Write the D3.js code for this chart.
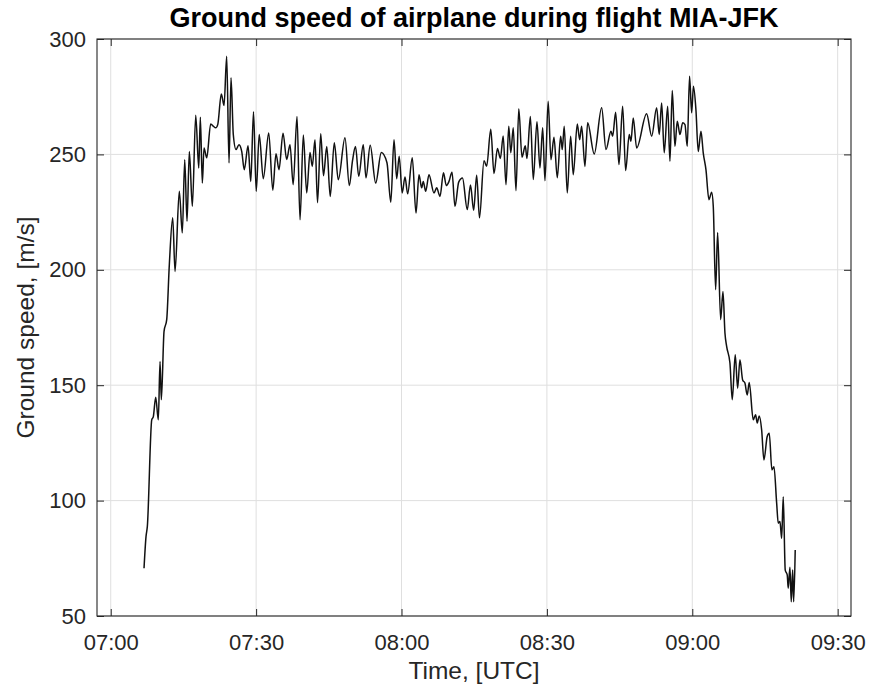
<!DOCTYPE html>
<html>
<head>
<meta charset="utf-8">
<script src="https://cdn.jsdelivr.net/npm/d3@7"></script>
<style>
body { margin: 0; background: #fff; }
svg { display: block; font-family: Arial, "Liberation Sans", Helvetica, sans-serif; }
</style>
</head>
<body>
<svg width="869" height="690"></svg>
<script>
// time of each sample, minutes after 07:00 UTC
var minutes = [
    6.87, 7.28, 7.55, 8.46, 8.79, 9.28, 9.82, 10.17, 10.44, 11.00,
    11.55, 12.09, 12.79, 13.27, 14.15, 14.77, 15.27, 15.74, 16.22, 16.84,
    17.54, 18.16, 18.49, 18.90, 19.25, 19.81, 20.63, 21.17, 21.66, 22.08,
    22.82, 23.38, 23.93, 24.41, 24.82, 25.29, 25.85, 26.47, 27.03, 27.56,
    28.33, 28.90, 29.46, 30.02, 30.64, 31.48, 32.60, 33.44, 34.10, 34.72,
    35.55, 36.31, 36.99, 37.65, 38.44, 39.06, 39.74, 40.44, 41.12, 41.59,
    42.15, 42.67, 43.33, 43.90, 44.58, 45.29, 46.13, 46.96, 48.34, 49.23,
    49.89, 50.51, 51.17, 52.11, 52.67, 53.54, 54.67, 55.83, 57.00, 57.79,
    58.45, 59.01, 59.52, 60.14, 60.72, 61.27, 62.22, 62.99, 63.61, 64.16,
    64.49, 64.99, 65.67, 66.70, 67.26, 67.94, 68.66, 69.24, 69.80, 70.42,
    71.03, 71.80, 72.58, 73.57, 74.23, 74.89, 75.51, 76.09, 77.02, 77.57,
    78.42, 79.08, 79.80, 80.40, 80.98, 81.56, 82.13, 82.55, 83.06, 83.62,
    84.20, 84.86, 85.54, 85.89, 86.59, 87.19, 87.95, 88.57, 89.13, 89.60,
    90.26, 90.84, 91.46, 92.14, 92.84, 93.17, 93.58, 94.20, 94.90, 95.44,
    96.27, 96.76, 97.17, 97.85, 98.41, 99.77, 101.30, 102.19, 103.22, 103.57,
    104.19, 104.87, 105.63, 106.25, 106.99, 107.34, 107.82, 108.52, 110.58, 111.62,
    112.65, 113.18, 113.68, 114.21, 114.92, 115.39, 115.87, 116.42, 116.90, 117.46,
    118.01, 118.49, 118.96, 119.44, 119.87, 120.24, 120.75, 121.23, 121.79, 122.26,
    122.82, 123.44, 124.00, 124.33, 124.82, 125.23, 125.85, 126.33, 126.74, 127.09,
    127.77, 128.25, 128.86, 129.36, 129.83, 130.39, 130.86, 131.34, 131.75, 132.58,
    133.07, 133.40, 133.82, 134.31, 134.78, 135.46, 135.88, 136.43, 136.85, 137.41,
    137.74, 138.09, 138.44, 138.77, 139.18, 139.59, 139.80, 140.15, 140.42, 140.71,
    140.92, 141.24
];

// ground speed, m/s
var speed = [
    70.7, 84.4, 88.7, 135.0, 136.4, 144.8, 135.0, 160.3, 143.7, 173.3,
    178.4, 202.2, 222.5, 199.3, 234.0, 216.0, 247.7, 221.0, 251.3, 227.5,
    267.0, 244.1, 266.1, 237.6, 252.8, 248.5, 263.2, 262.2, 261.5, 262.9,
    276.2, 271.2, 292.5, 246.3, 283.2, 258.6, 252.1, 254.2, 251.3, 243.4,
    253.7, 238.3, 268.5, 234.0, 258.6, 239.5, 259.3, 234.5, 250.3, 243.4,
    259.2, 247.8, 254.2, 236.9, 266.4, 221.7, 258.4, 233.3, 250.8, 244.8,
    256.4, 229.1, 258.9, 240.8, 253.4, 231.8, 255.0, 239.0, 257.2, 236.5,
    247.3, 253.4, 240.5, 254.2, 239.8, 254.0, 237.6, 250.8, 246.4, 229.3,
    256.4, 239.5, 249.2, 233.3, 240.2, 232.9, 248.5, 224.6, 241.2, 235.5,
    238.3, 234.0, 241.2, 233.3, 235.5, 231.8, 242.0, 236.5, 238.3, 242.3,
    227.5, 238.0, 239.8, 226.1, 236.7, 225.8, 241.0, 222.5, 247.3, 244.9,
    260.9, 241.7, 252.6, 248.2, 258.0, 236.9, 262.2, 250.7, 261.5, 234.3,
    269.8, 248.8, 253.7, 248.2, 266.4, 239.1, 264.1, 244.1, 261.6, 238.6,
    273.0, 247.7, 257.4, 239.9, 257.9, 252.1, 262.2, 233.3, 257.9, 241.2,
    263.2, 256.4, 262.2, 244.8, 263.7, 250.2, 270.2, 252.1, 260.0, 257.9,
    268.3, 245.6, 270.9, 243.0, 258.6, 255.7, 265.8, 252.8, 267.6, 257.9,
    270.2, 258.6, 272.3, 250.7, 270.9, 247.0, 277.7, 253.5, 264.4, 258.6,
    263.7, 262.9, 253.5, 283.9, 268.0, 279.5, 269.4, 251.3, 260.0, 250.7,
    243.4, 230.4, 233.6, 227.5, 191.4, 216.2, 178.4, 190.6, 172.6, 166.8,
    159.6, 143.7, 163.2, 148.7, 161.0, 152.3, 150.9, 145.8, 151.2, 135.0,
    137.2, 133.6, 136.7, 130.7, 117.6, 127.8, 129.2, 113.3, 114.7, 98.9,
    90.2, 90.9, 83.7, 101.7, 69.9, 67.8, 62.0, 71.1, 56.2, 69.9,
    56.2, 78.6
];

var xTicks = ["07:00", "07:30", "08:00", "08:30", "09:00", "09:30"];
var xLimits = ["06:57:10", "09:32:45"];
var yTicks = [50, 100, 150, 200, 250, 300];
var yLimits = [50, 300];

var plotLeft = 97, plotRight = 851, plotTop = 39, plotBottom = 616;
var ink = "#262626";

var parseHM = d3.utcParse("%H:%M");
var parseHMS = d3.utcParse("%H:%M:%S");
var start = parseHM("07:00");

var data = minutes.map((m, i) => ({time: new Date(+start + m * 60000), speed: speed[i]}));

var x = d3.scaleUtc().domain(xLimits.map(parseHMS)).range([plotLeft, plotRight]);
var y = d3.scaleLinear().domain(yLimits).range([plotBottom, plotTop]);
var xTickDates = xTicks.map(parseHM);

var svg = d3.select("svg");

// grid
var grid = svg.append("g").attr("stroke", "#dfdfdf").attr("stroke-width", 1);
grid.selectAll(".gx").data(xTickDates).enter().append("line")
    .attr("x1", d => x(d)).attr("x2", d => x(d))
    .attr("y1", plotTop).attr("y2", plotBottom);
grid.selectAll(".gy").data(yTicks).enter().append("line")
    .attr("x1", plotLeft).attr("x2", plotRight)
    .attr("y1", d => y(d)).attr("y2", d => y(d));

// ground speed line
var line = d3.line()
    .x(d => x(d.time))
    .y(d => y(d.speed))
    .curve(d3.curveMonotoneX);

svg.append("path")
    .datum(data)
    .attr("fill", "none")
    .attr("stroke", "#111")
    .attr("stroke-width", 1.5)
    .attr("stroke-linejoin", "round")
    .attr("d", line);

// axes, ticks inside on all four sides
var fmt = d3.utcFormat("%H:%M");

svg.append("g").attr("transform", `translate(0,${plotBottom})`)
    .call(d3.axisBottom(x).tickValues(xTickDates).tickFormat(fmt).tickSize(-7).tickPadding(18));
svg.append("g").attr("transform", `translate(0,${plotTop})`)
    .call(d3.axisTop(x).tickValues(xTickDates).tickFormat("").tickSize(-7));
svg.append("g").attr("transform", `translate(${plotLeft},0)`)
    .call(d3.axisLeft(y).tickValues(yTicks).tickSize(-7).tickPadding(11));
svg.append("g").attr("transform", `translate(${plotRight},0)`)
    .call(d3.axisRight(y).tickValues(yTicks).tickFormat("").tickSize(-7));

svg.selectAll(".domain").remove();
svg.selectAll(".tick line").attr("stroke", ink);
svg.selectAll(".tick text").attr("fill", ink).style("font-size", "22px");

svg.append("rect")
    .attr("x", plotLeft).attr("y", plotTop)
    .attr("width", plotRight - plotLeft).attr("height", plotBottom - plotTop)
    .attr("fill", "none")
    .attr("stroke", ink)
    .attr("stroke-width", 1.1);

// labels
svg.append("text")
    .attr("x", (plotLeft + plotRight) / 2).attr("y", 27)
    .attr("text-anchor", "middle")
    .style("font-size", "27px").style("font-weight", "bold")
    .attr("fill", "#000")
    .text("Ground speed of airplane during flight MIA-JFK");

svg.append("text")
    .attr("x", (plotLeft + plotRight) / 2).attr("y", 679)
    .attr("text-anchor", "middle")
    .style("font-size", "24.5px")
    .attr("fill", ink)
    .text("Time, [UTC]");

svg.append("text")
    .attr("transform", `translate(34,${(plotTop + plotBottom) / 2}) rotate(-90)`)
    .attr("text-anchor", "middle")
    .style("font-size", "24.5px")
    .attr("fill", ink)
    .text("Ground speed, [m/s]");
</script>
</body>
</html>
